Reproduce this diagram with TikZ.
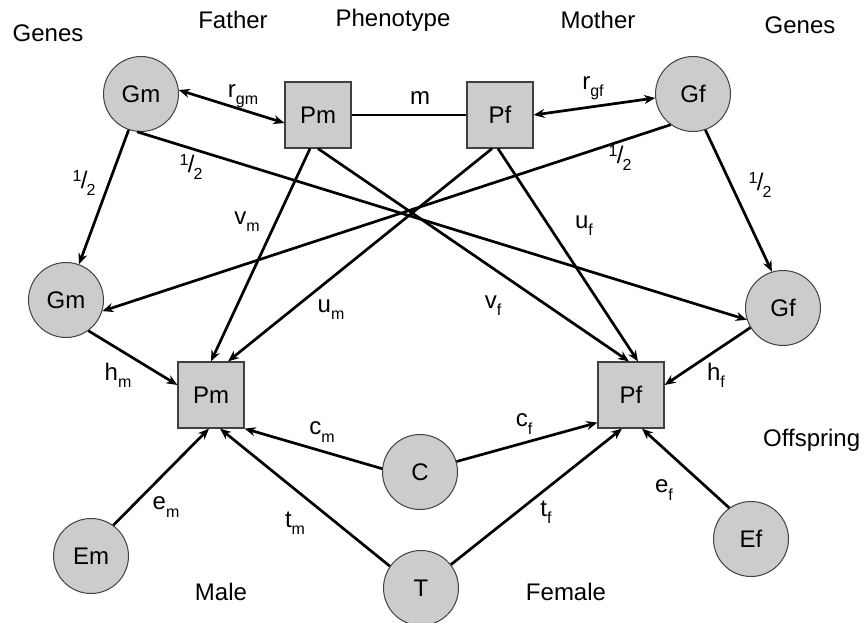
\documentclass[tikz,border=0pt]{standalone}
\usepackage{fontspec}
\setmainfont{Liberation Sans}
\usetikzlibrary{arrows.meta,calc}
\definecolor{nodegray}{HTML}{CCCCCC}
\newcommand\lsub[1]{\raisebox{-0.3em}{\fontsize{16}{16}\selectfont #1}}
\newcommand\lhalf{\raisebox{0.3em}{\fontsize{16}{16}\selectfont 1}\kern-0.5pt/\kern-1pt\raisebox{-0.3em}{\fontsize{16}{16}\selectfont 2}}
\begin{document}
\begin{tikzpicture}[x=1pt,y=-1pt,
  font=\fontsize{24}{28}\selectfont,
  gcirc/.style={circle,draw=black!75,line width=1pt,fill=nodegray,minimum size=75pt,inner sep=0pt},
  pbox/.style={rectangle,draw=black!75,line width=1.2pt,fill=nodegray,minimum size=66pt,inner sep=0pt},
  lab/.style={inner sep=0pt},
  arr/.style={line width=2.7pt,-{Stealth[length=11pt,width=9pt]}},
  darr/.style={line width=2.7pt,{Stealth[length=11pt,width=9pt]}-{Stealth[length=11pt,width=9pt]}},
  plain/.style={line width=2.7pt}]
\useasboundingbox (0,0) rectangle (865,623);
% nodes
\node[gcirc] (gmt) at (141,94) {Gm};
\node[pbox]  (pmt) at (318,115) {Pm};
\node[pbox]  (pft) at (500,115) {Pf};
\node[gcirc] (gft) at (693,94) {Gf};
\node[gcirc] (gmm) at (66,300) {Gm};
\node[gcirc] (gfm) at (783,308) {Gf};
\node[pbox]  (pmb) at (211,395) {Pm};
\node[pbox]  (pfb) at (631,395) {Pf};
\node[gcirc] (c)   at (420,472) {C};
\node[gcirc] (t)   at (421,588) {T};
\node[gcirc] (em)  at (91,556) {Em};
\node[gcirc] (ef)  at (751,539) {Ef};
% headings
\node[lab] (h1) at (48,33) {Genes};
\node[lab] (h2) at (233,20) {Father};
\node[lab] (h3) at (393,20) {Phenotype};
\node[lab] (h4) at (598,20) {Mother};
\node[lab] (h5) at (800,25) {Genes};
\node[lab,anchor=west] (h6) at (763,440) {Offspring};
\node[lab] (h7) at (221,592) {Male};
\node[lab] (h8) at (566,592) {Female};
% connectors
\draw[darr] (gmt.6) -- ($(pmt.west)+(0,8)$);
\draw[plain] (pmt.east) -- (pft.west);
\draw[darr] (pft.east) -- (gft.-174);
\draw[arr] (gmt.-109) -- (gmm.70);
\draw[arr] (gmt.-96) -- (gfm.-162.5);
\draw[arr] (gft.-126) -- (gmm.-17);
\draw[arr] (gft.-71) -- (gfm.107.5);
\draw[arr] ($(pmt.south)+(-8,0)$) -- (pmb.north);
\draw[arr] (pmt.south) -- ($(pfb.north)+(-2,0)$);
\draw[arr] ($(pft.south)+(-8,0)$) -- ($(pmb.north)+(17,0)$);
\draw[arr] ($(pft.south)+(-2,0)$) -- ($(pfb.north)+(7,0)$);
\draw[arr] (gmm.-54) -- ($(pmb.west)+(0,-10)$);
\draw[arr] (gfm.-149) -- ($(pfb.east)+(0,-10)$);
\draw[arr] (c.175) -- (pmb.south east);
\draw[arr] (c.16) -- ($(pfb.south west)+(0,-6)$);
\draw[arr] (em.54) -- ($(pmb.south)+(-2,0)$);
\draw[arr] (t.145) -- ($(pmb.south)+(9,0)$);
\draw[arr] (t.38) -- ($(pfb.south)+(-9,0)$);
\draw[arr] (ef.125) -- ($(pfb.south)+(11,0)$);
% edge labels
\node[lab] (lrgm) at (243,96) {r\lsub{gm}};
\node[lab] (lm) at (420,98) {m};
\node[lab] (lrgf) at (593,88) {r\lsub{gf}};
\node[lab] (lh1) at (84,183) {\lhalf};
\node[lab] (lh2) at (191,167) {\lhalf};
\node[lab] (lh3) at (620,158) {\lhalf};
\node[lab] (lh4) at (760,185) {\lhalf};
\node[lab] (lvm) at (247,222) {v\lsub{m}};
\node[lab] (lum) at (331,310) {u\lsub{m}};
\node[lab] (luf) at (584,226) {u\lsub{f}};
\node[lab] (lvf) at (493,306) {v\lsub{f}};
\node[lab] (lhm) at (118,375) {h\lsub{m}};
\node[lab] (lhf) at (716,375) {h\lsub{f}};
\node[lab] (lcm) at (322,432) {c\lsub{m}};
\node[lab] (lcf) at (524,424) {c\lsub{f}};
\node[lab] (lem) at (166,507) {e\lsub{m}};
\node[lab] (ltm) at (295,523) {t\lsub{m}};
\node[lab] (ltf) at (546,512) {t\lsub{f}};
\node[lab] (lef) at (664,490) {e\lsub{f}};
\end{tikzpicture}
\end{document}
